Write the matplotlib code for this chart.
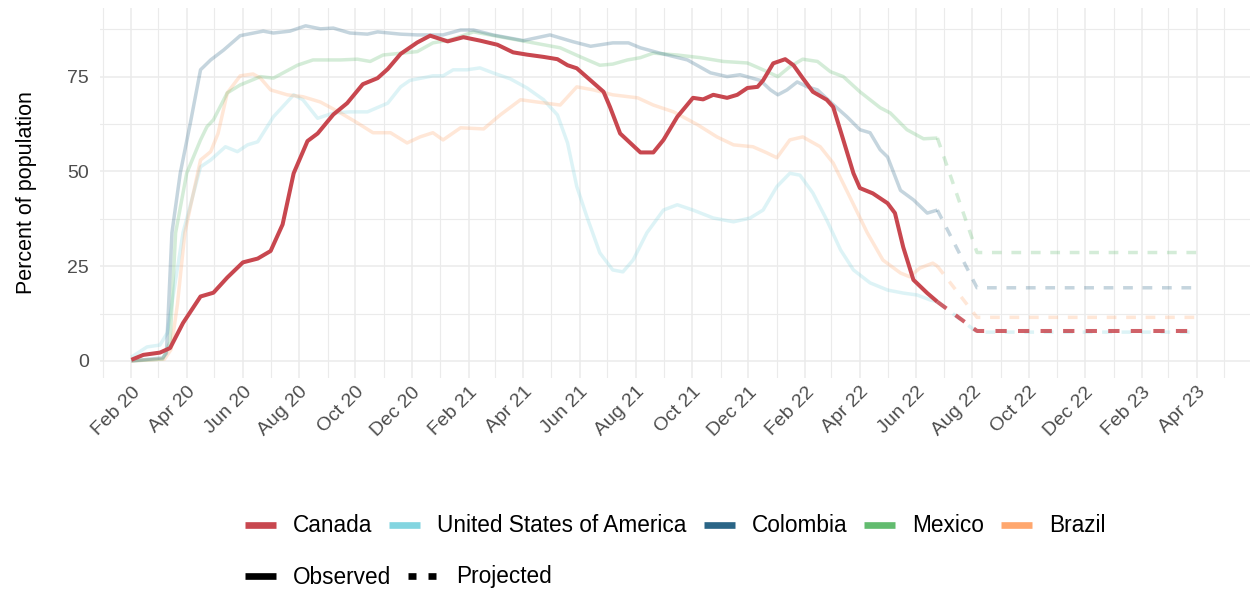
import pandas as pd
import matplotlib
matplotlib.use('Agg')
import matplotlib.pyplot as plt
import matplotlib.dates as mdates
from matplotlib.lines import Line2D

plt.rcParams['font.family'] = ['Liberation Sans', 'DejaVu Sans']

# observed series
canada_dates = ['2020-02-01', '2020-02-14', '2020-03-03', '2020-03-14', '2020-03-28', '2020-04-16',
                '2020-04-30', '2020-05-15', '2020-06-01', '2020-06-17', '2020-07-01', '2020-07-14',
                '2020-07-26', '2020-08-10', '2020-08-21', '2020-09-07', '2020-09-22', '2020-10-09',
                '2020-10-25', '2020-11-05', '2020-11-19', '2020-12-07', '2020-12-21', '2021-01-09',
                '2021-01-26', '2021-02-13', '2021-03-04', '2021-03-21', '2021-04-05', '2021-04-23',
                '2021-05-08', '2021-05-19', '2021-05-29', '2021-06-13', '2021-06-27', '2021-07-04',
                '2021-07-15', '2021-07-26', '2021-08-06', '2021-08-20', '2021-08-31', '2021-09-15',
                '2021-10-02', '2021-10-13', '2021-10-24', '2021-11-08', '2021-11-19', '2021-11-30',
                '2021-12-11', '2021-12-17', '2021-12-28', '2022-01-10', '2022-01-19', '2022-01-29',
                '2022-02-09', '2022-02-24', '2022-03-03', '2022-03-14', '2022-03-25', '2022-04-01',
                '2022-04-15', '2022-05-01', '2022-05-09', '2022-05-18', '2022-05-29', '2022-06-13',
                '2022-06-24']
canada_vals = [0.3, 1.6, 2.2, 3.4, 10, 17, 18, 22, 26, 27, 29, 36, 49.5, 58, 60, 65, 68, 73, 74.6,
               77, 81, 84, 85.8, 84.3, 85.4, 84.5, 83.4, 81.4, 80.8, 80.2, 79.6, 78, 77.2, 74, 71,
               67, 60, 57.5, 55, 55, 58.3, 64.4, 69.4, 69, 70.2, 69.4, 70.2, 72, 72.3, 74, 78.5,
               79.6, 78, 74.6, 71, 68.9, 67, 58.3, 49.5, 45.6, 44.2, 41.6, 39, 30, 21.4, 17.9, 15.6]

usa_dates = ['2020-02-01', '2020-02-18', '2020-03-03', '2020-03-11', '2020-03-28', '2020-04-16',
             '2020-04-27', '2020-05-13', '2020-05-26', '2020-06-06', '2020-06-17', '2020-07-04',
             '2020-07-26', '2020-08-05', '2020-08-21', '2020-09-07', '2020-09-25', '2020-10-14',
             '2020-11-05', '2020-11-19', '2020-11-29', '2020-12-24', '2021-01-04', '2021-01-15',
             '2021-01-30', '2021-02-13', '2021-02-27', '2021-03-18', '2021-04-05', '2021-04-23',
             '2021-05-08', '2021-05-19', '2021-05-29', '2021-06-09', '2021-06-23', '2021-07-07',
             '2021-07-18', '2021-07-29', '2021-08-13', '2021-08-31', '2021-09-15', '2021-10-02',
             '2021-10-24', '2021-11-15', '2021-12-03', '2021-12-17', '2022-01-01', '2022-01-15',
             '2022-01-26', '2022-02-09', '2022-02-24', '2022-03-11', '2022-03-25', '2022-04-12',
             '2022-05-01', '2022-05-18', '2022-06-02', '2022-06-16', '2022-06-24']
usa_vals = [1, 3.7, 4.2, 7.4, 33.8, 51.2, 53, 56.5, 55.2, 57, 57.8, 64.4, 70.2, 68.9, 64, 65.4,
            65.7, 65.7, 68, 72.3, 74, 75.2, 75.2, 76.8, 76.8, 77.3, 76, 74.4, 72, 68.9, 64.9, 57.5,
            46, 38, 28.5, 24, 23.5, 26.6, 33.8, 39.8, 41.2, 39.8, 37.7, 36.7, 37.7, 39.8, 46, 49.5,
            49, 44.3, 37.2, 29.3, 24, 20.6, 18.7, 17.9, 17.4, 16.1, 15.6]

colombia_dates = ['2020-02-01', '2020-03-06', '2020-03-10', '2020-03-16', '2020-03-25', '2020-04-05',
                  '2020-04-16', '2020-04-27', '2020-05-11', '2020-05-29', '2020-06-23', '2020-07-04',
                  '2020-07-22', '2020-08-08', '2020-08-24', '2020-09-07', '2020-09-25', '2020-10-14',
                  '2020-10-25', '2020-11-19', '2020-12-07', '2021-01-04', '2021-01-23', '2021-02-06',
                  '2021-02-27', '2021-04-01', '2021-04-30', '2021-05-25', '2021-06-13', '2021-07-07',
                  '2021-07-24', '2021-08-06', '2021-08-27', '2021-09-26', '2021-10-21', '2021-11-08',
                  '2021-11-22', '2021-12-14', '2021-12-25', '2022-01-02', '2022-01-12', '2022-01-23',
                  '2022-02-03', '2022-02-14', '2022-02-28', '2022-03-18', '2022-04-01', '2022-04-12',
                  '2022-04-23', '2022-05-01', '2022-05-15', '2022-05-29', '2022-06-13', '2022-06-24']
colombia_vals = [0, 0.8, 2, 33.8, 49.5, 62.8, 76.8, 79.4, 82, 85.8, 87, 86.5, 87, 88.4, 87.6, 87.8,
                 86.5, 86.2, 86.8, 86.2, 86, 86, 87.3, 87.3, 86, 84.5, 86, 84.2, 83, 83.9, 83.9, 82.6,
                 81.2, 79.4, 76, 75, 75.5, 74, 71.5, 70.2, 71.5, 73.6, 72.3, 71.5, 68.3, 64.4, 61,
                 60.2, 55.7, 53.8, 45, 42.5, 39, 39.8]

mexico_dates = ['2020-02-01', '2020-03-06', '2020-03-14', '2020-03-20', '2020-04-01', '2020-04-16',
                '2020-04-23', '2020-04-30', '2020-05-15', '2020-05-29', '2020-06-20', '2020-07-04',
                '2020-07-30', '2020-08-16', '2020-09-15', '2020-10-03', '2020-10-17', '2020-10-31',
                '2020-12-07', '2020-12-24', '2021-01-12', '2021-02-06', '2021-03-07', '2021-04-12',
                '2021-05-11', '2021-06-02', '2021-06-23', '2021-07-07', '2021-07-23', '2021-08-06',
                '2021-08-20', '2021-09-15', '2021-10-10', '2021-11-04', '2021-11-30', '2021-12-17',
                '2022-01-02', '2022-01-15', '2022-01-29', '2022-02-14', '2022-02-28', '2022-03-14',
                '2022-04-01', '2022-04-23', '2022-05-04', '2022-05-22', '2022-06-09', '2022-06-24']
mexico_vals = [0, 0.5, 5, 33.8, 49.5, 58.3, 61.8, 63.6, 70.7, 72.8, 75, 74.6, 78, 79.4, 79.4, 79.6,
               79, 80.7, 81.6, 83.9, 84.7, 86.8, 85.5, 83.9, 82.6, 80.2, 78, 78.3, 79.4, 80, 81.2,
               80.7, 80, 79, 78.6, 76.8, 75, 77.6, 79.6, 79, 76.3, 75, 71, 66.8, 65.4, 61, 58.6, 58.8]

brazil_dates = ['2020-02-01', '2020-03-08', '2020-03-15', '2020-03-22', '2020-03-30', '2020-04-16',
                '2020-04-27', '2020-05-05', '2020-05-15', '2020-05-29', '2020-06-12', '2020-06-20',
                '2020-07-01', '2020-07-19', '2020-08-05', '2020-08-24', '2020-09-15', '2020-10-03',
                '2020-10-20', '2020-11-08', '2020-11-26', '2020-12-10', '2020-12-24', '2021-01-04',
                '2021-01-23', '2021-02-17', '2021-03-07', '2021-03-29', '2021-04-16', '2021-05-11',
                '2021-05-29', '2021-06-16', '2021-07-07', '2021-08-03', '2021-08-20', '2021-09-11',
                '2021-10-07', '2021-10-28', '2021-11-15', '2021-12-06', '2021-12-21', '2022-01-01',
                '2022-01-15', '2022-01-29', '2022-02-17', '2022-03-03', '2022-03-21', '2022-04-09',
                '2022-04-26', '2022-05-15', '2022-05-25', '2022-06-05', '2022-06-19', '2022-06-24']
brazil_vals = [0, 0.5, 3, 15, 33.8, 53, 55.2, 60, 70.7, 75.2, 75.7, 74.6, 71.5, 70.2, 69.7, 68.3,
               65.4, 62.8, 60.2, 60.2, 57.5, 59.1, 60.2, 58.3, 61.5, 61.2, 64.9, 68.9, 68.3, 67.5,
               72.3, 71.5, 70.2, 69.4, 67.5, 65.7, 62.3, 59.1, 57, 56.5, 54.9, 53.6, 58.3, 59.1,
               56.5, 52.2, 43.3, 33.8, 26.6, 23.2, 22.2, 24.5, 25.8, 25]

# projected series: last observed point, end of decline, end of horizon
proj_dates = ['2022-06-24', '2022-08-06', '2023-04-01']
canada_proj = [15.6, 7.9, 7.9]
usa_proj = [15.6, 7.6, 7.6]
colombia_proj = [39.8, 19.3, 19.3]
mexico_proj = [58.8, 28.6, 28.6]
brazil_proj = [25, 11.5, 11.5]

names = ['Canada', 'United States of America', 'Colombia', 'Mexico', 'Brazil']
colors = ['#C8474F', '#83D5E0', '#2A6586', '#62BC6F', '#FFA76E']

series = [
    (canada_dates, canada_vals, canada_proj),
    (usa_dates, usa_vals, usa_proj),
    (colombia_dates, colombia_vals, colombia_proj),
    (mexico_dates, mexico_vals, mexico_proj),
    (brazil_dates, brazil_vals, brazil_proj),
]

fig = plt.figure(figsize=(12.52, 5.95), dpi=100)
ax = fig.add_axes([100 / 1252, 1 - 378 / 595, 1150 / 1252, 370 / 595])

pdates = pd.to_datetime(proj_dates)
# draw the faded countries first, Canada on top
for i in [1, 4, 3, 2, 0]:
    d, v, p = series[i]
    a = 1.0 if i == 0 else 0.27
    lw = 2.9 if i == 0 else 2.5
    ax.plot(pd.to_datetime(d), v, color=colors[i], alpha=a, lw=lw,
            solid_joinstyle='round', solid_capstyle='butt', zorder=3 + (i == 0))
    ax.plot(pdates, p, color=colors[i], alpha=0.85 if i == 0 else a, lw=lw,
            linestyle=(0, (2.8, 2.8)), dash_capstyle='butt', zorder=3 + (i == 0))

ax.set_xlim(pd.Timestamp('2019-12-29'), pd.Timestamp('2023-05-29'))
ax.set_ylim(-4.5, 93.1)

ax.xaxis.set_major_locator(mdates.MonthLocator(bymonth=[2, 4, 6, 8, 10, 12]))
ax.xaxis.set_minor_locator(mdates.MonthLocator(bymonth=[1, 3, 5, 7, 9, 11]))
ax.xaxis.set_major_formatter(mdates.DateFormatter('%b %y'))
ax.set_yticks([0, 25, 50, 75])
ax.set_yticks([12.5, 37.5, 62.5, 87.5], minor=True)

ax.grid(which='major', color='#EBEBEB', lw=1.1, zorder=0)
ax.grid(which='minor', color='#EBEBEB', lw=0.8, zorder=0)
ax.set_axisbelow(True)
for s in ax.spines.values():
    s.set_visible(False)
ax.tick_params(which='both', length=0)
ax.tick_params(axis='y', labelsize=14, labelcolor='#4D4D4D', pad=8)
ax.tick_params(axis='x', labelsize=14, labelcolor='#4D4D4D', pad=4)
for lab in ax.get_xticklabels():
    lab.set_rotation(45)
    lab.set_ha('right')
    lab.set_va('top')
    lab.set_rotation_mode('anchor')

ax.set_ylabel('Percent of population', fontsize=15.5, labelpad=22)

# legends
fs = 16.3
h1 = [Line2D([], [], color=c, lw=4.8, solid_capstyle='butt') for c in colors]
fig.legend(h1, names, loc='center left', bbox_to_anchor=(245 / 1252, 1 - 526 / 595),
           ncol=5, frameon=False, fontsize=fs, handlelength=1.37, handletextpad=0.75,
           columnspacing=0.75, borderpad=0, borderaxespad=0)
h2 = [Line2D([], [], color='black', lw=4.8, solid_capstyle='butt'),
      Line2D([], [], color='black', lw=4.8, linestyle=(0, (1.2, 1.8)), dash_capstyle='butt')]
fig.legend(h2, ['Observed', 'Projected'], loc='center left',
           bbox_to_anchor=(245 / 1252, 1 - 577 / 595),
           ncol=2, frameon=False, fontsize=fs, handlelength=1.37, handletextpad=0.75,
           columnspacing=0.75, borderpad=0, borderaxespad=0)

fig.savefig('out.png', dpi=100)
